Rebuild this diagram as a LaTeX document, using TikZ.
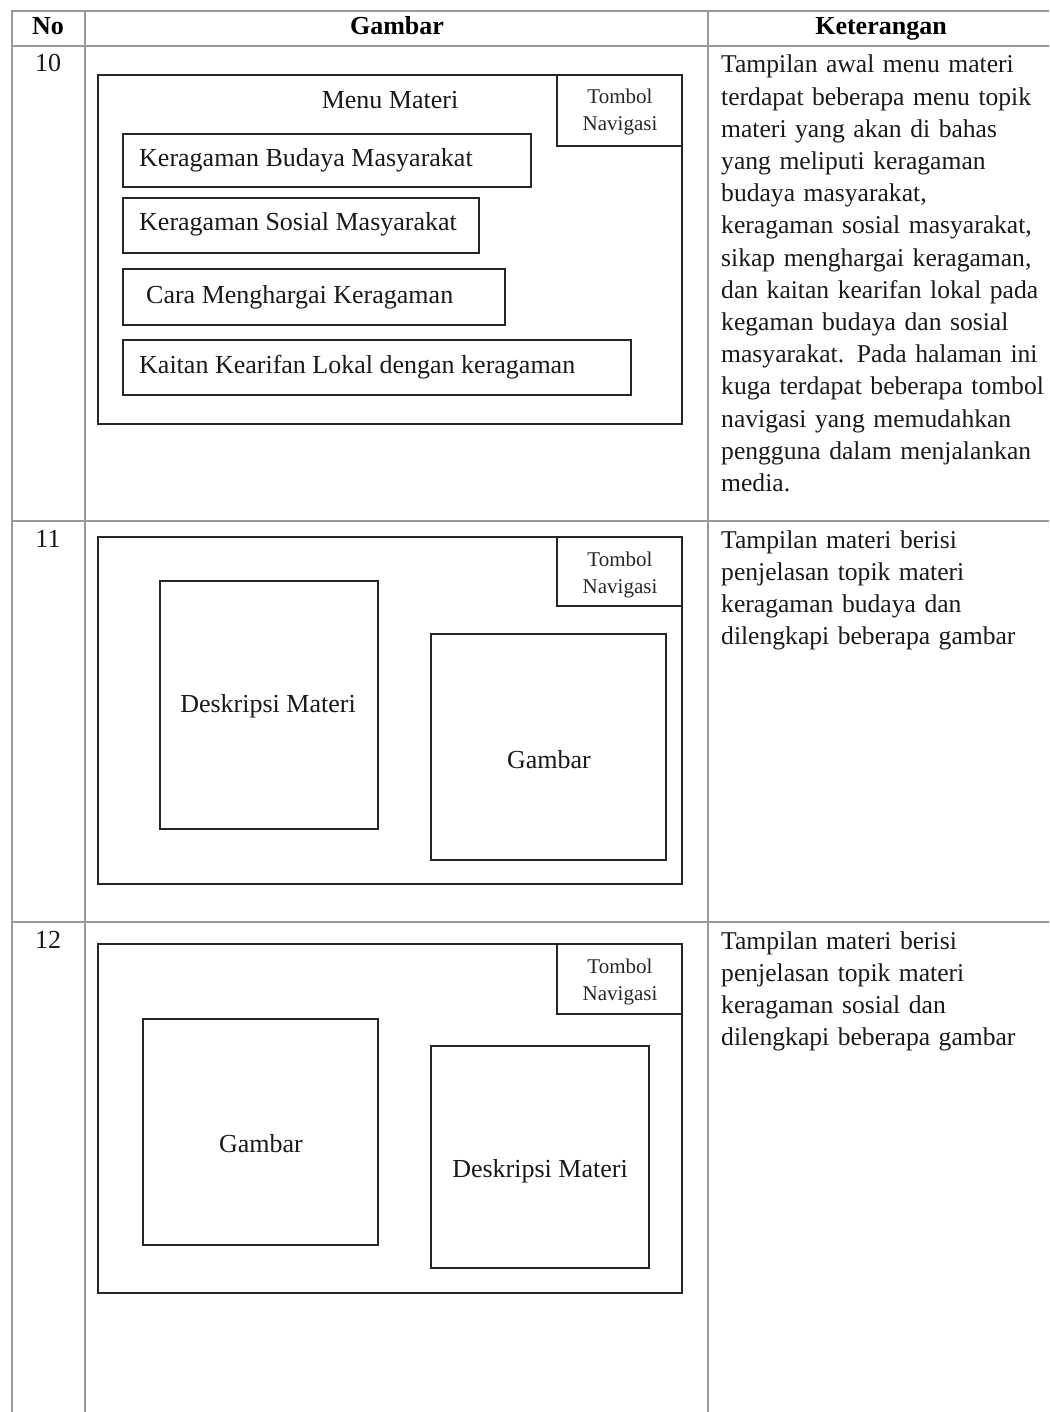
\documentclass[tikz,border=0pt]{standalone}
\usepackage{fontspec}
\setmainfont{Liberation Serif}
\begin{document}
\begin{tikzpicture}[x=1pt,y=-1pt,
  grid/.style={draw=gray!80, line width=1.6pt},
  frame/.style={draw=black!85, line width=1.9pt},
  lbl/.style={font=\fontsize{26}{31}\selectfont, inner sep=0pt, text=black!90, anchor=base},
  lblw/.style={font=\fontsize{26}{31}\selectfont, inner sep=0pt, text=black!90, anchor=base west},
  hdr/.style={font=\fontsize{26}{31}\selectfont\bfseries, inner sep=0pt, anchor=base},
  nav/.style={font=\fontsize{21}{27}\selectfont, inner sep=0pt, text=black!85, anchor=base},
  desc/.style={font=\fontsize{25.6}{32.2}\selectfont, inner sep=0pt, text width=335pt, align=left, anchor=base west, text=black!90}
]
\useasboundingbox (0,0) rectangle (1049,1412);
% table grid
\draw[grid] (12,1412) -- (12,11) -- (1049,11);
\draw[grid] (12,46) -- (1049,46);
\draw[grid] (12,521) -- (1049,521);
\draw[grid] (12,922) -- (1049,922);
\draw[grid] (85,11) -- (85,1412);
\draw[grid] (708,11) -- (708,1412);
% header
\node[hdr] (hno) at (48,35) {No};
\node[hdr] (hgb) at (397,35) {Gambar};
\node[hdr] (hket) at (881,35) {Keterangan};
% row numbers
\node[lbl] (n10) at (48,72) {10};
\node[lbl] (n11) at (48,547) {11};
\node[lbl] (n12) at (48,948) {12};

% ---- row 10
\draw[frame] (98,75) rectangle (682,424);
\draw[frame] (557,75) rectangle (682,146);
\node[nav] (nav10a) at (620,104) {Tombol};
\node[nav] (nav10b) at (620,131) {Navigasi};
\node[lbl] (mm) at (390,109) {Menu Materi};
\draw[frame] (123,134) rectangle (531,187);
\node[lblw] (t1) at (139,167) {Keragaman Budaya Masyarakat};
\draw[frame] (123,198) rectangle (479,253);
\node[lblw] (t2) at (139,231) {Keragaman Sosial Masyarakat};
\draw[frame] (123,269) rectangle (505,325);
\node[lblw] (t3) at (146,303) {Cara Menghargai Keragaman};
\draw[frame] (123,340) rectangle (631,395);
\node[lblw] (t4) at (139,373) {Kaitan Kearifan Lokal dengan keragaman};
\node[desc] (d10) at (721,73) {Tampilan awal menu materi\\
terdapat beberapa menu topik\\
materi yang akan di bahas\\
yang meliputi keragaman\\
budaya masyarakat,\\
keragaman sosial masyarakat,\\
sikap menghargai keragaman,\\
dan kaitan kearifan lokal pada\\
kegaman budaya dan sosial\\
masyarakat. Pada halaman ini\\
kuga terdapat beberapa tombol\\
navigasi yang memudahkan\\
pengguna dalam menjalankan\\
media.};

% ---- row 11
\draw[frame] (98,537) rectangle (682,884);
\draw[frame] (557,537) rectangle (682,606);
\node[nav] (nav11a) at (620,566) {Tombol};
\node[nav] (nav11b) at (620,593) {Navigasi};
\draw[frame] (160,581) rectangle (378,829);
\node[lbl] (dm11) at (268,712) {Deskripsi Materi};
\draw[frame] (431,634) rectangle (666,860);
\node[lbl] (gb11) at (549,768) {Gambar};
\node[desc] (d11) at (721,548) {Tampilan materi berisi\\
penjelasan topik materi\\
keragaman budaya dan\\
dilengkapi beberapa gambar};

% ---- row 12
\draw[frame] (98,944) rectangle (682,1293);
\draw[frame] (557,944) rectangle (682,1014);
\node[nav] (nav12a) at (620,973) {Tombol};
\node[nav] (nav12b) at (620,1000) {Navigasi};
\draw[frame] (143,1019) rectangle (378,1245);
\node[lbl] (gb12) at (261,1152) {Gambar};
\draw[frame] (431,1046) rectangle (649,1268);
\node[lbl] (dm12) at (540,1177) {Deskripsi Materi};
\node[desc] (d12) at (721,949) {Tampilan materi berisi\\
penjelasan topik materi\\
keragaman sosial dan\\
dilengkapi beberapa gambar};
\end{tikzpicture}
\end{document}
